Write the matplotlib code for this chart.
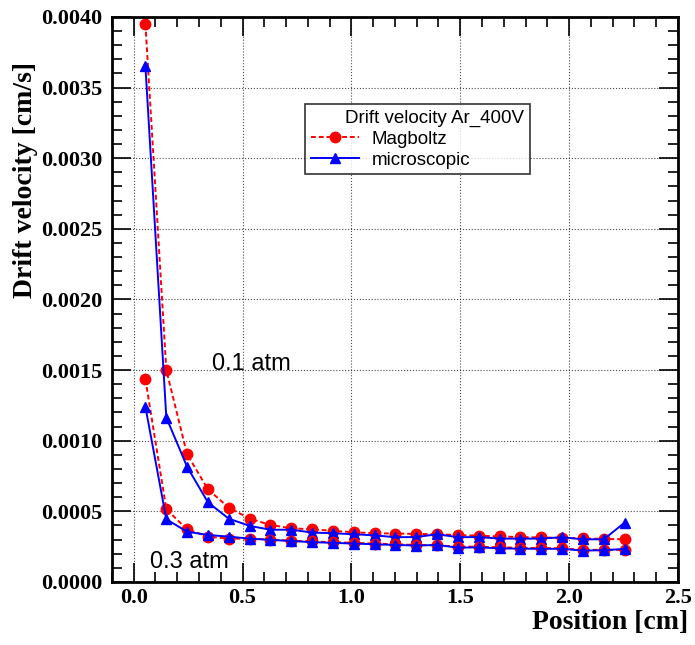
import matplotlib.pyplot as plt
from matplotlib.ticker import MultipleLocator

# positions of the sampled points [cm]
position = [0.054, 0.150, 0.245, 0.341, 0.437, 0.533, 0.628, 0.724, 0.820, 0.915,
            1.011, 1.107, 1.202, 1.298, 1.394, 1.489, 1.585, 1.681, 1.776, 1.872,
            1.968, 2.063, 2.159, 2.255]

# 0.1 atm
magboltz_01 = [0.00395, 0.00150, 0.000906, 0.000656, 0.000526, 0.000448, 0.000404, 0.000380,
               0.000373, 0.000362, 0.000352, 0.000345, 0.000343, 0.000340, 0.000338, 0.000332,
               0.000328, 0.000322, 0.000318, 0.000315, 0.000312, 0.000308, 0.000305, 0.000302]
micro_01 = [0.00365, 0.001164, 0.000817, 0.000564, 0.000448, 0.000397, 0.000370, 0.000370,
            0.000350, 0.000345, 0.000338, 0.000330, 0.000317, 0.000318, 0.000338, 0.000317,
            0.000318, 0.000307, 0.000307, 0.000307, 0.000317, 0.000302, 0.000302, 0.000420]

# 0.3 atm
magboltz_03 = [0.001435, 0.000515, 0.000373, 0.000321, 0.000307, 0.000307, 0.000300, 0.000292,
               0.000287, 0.000282, 0.000277, 0.000272, 0.000267, 0.000262, 0.000260, 0.000250,
               0.000250, 0.000245, 0.000242, 0.000240, 0.000238, 0.000227, 0.000228, 0.000227]
micro_03 = [0.00124, 0.000444, 0.000356, 0.000333, 0.000321, 0.000307, 0.000298, 0.000290,
            0.000282, 0.000277, 0.000272, 0.000267, 0.000262, 0.000258, 0.000262, 0.000243,
            0.000245, 0.000238, 0.000236, 0.000235, 0.000235, 0.000222, 0.000225, 0.000234]

fig = plt.figure(figsize=(6.95, 6.45), dpi=100)
ax = fig.add_axes([0.161, 0.0977, 0.8145, 0.876])

# red dashed with circles, blue solid with triangles
l1, = ax.plot(position, magboltz_01, color="red", linestyle=(0, (2.5, 1.5)), linewidth=1.4,
              marker="o", markersize=7.5, label="Magboltz")
l2, = ax.plot(position, micro_01, color="blue", linestyle="-", linewidth=1.4,
              marker="^", markersize=7.5, label="microscopic")
ax.plot(position, magboltz_03, color="red", linestyle=(0, (2.5, 1.5)), linewidth=1.4,
        marker="o", markersize=7.5)
ax.plot(position, micro_03, color="blue", linestyle="-", linewidth=1.4,
        marker="^", markersize=7.5)

ax.set_xlim(-0.1, 2.5)
ax.set_ylim(0, 0.004)
ax.xaxis.set_major_locator(MultipleLocator(0.5))
ax.xaxis.set_minor_locator(MultipleLocator(0.1))
ax.yaxis.set_major_locator(MultipleLocator(0.0005))
ax.yaxis.set_minor_locator(MultipleLocator(0.0001))
ax.xaxis.set_major_formatter(plt.FormatStrFormatter("%.1f"))
ax.yaxis.set_major_formatter(plt.FormatStrFormatter("%.4f"))

# ROOT-like ticks on every side
ax.tick_params(which="both", direction="in", top=True, right=True, width=1.2)
ax.tick_params(which="major", length=14)
ax.tick_params(which="minor", length=7)
ax.tick_params(axis="x", which="major", pad=4)
ax.tick_params(axis="y", which="major", pad=7)
for lab in ax.get_xticklabels() + ax.get_yticklabels():
    lab.set_fontfamily("Liberation Serif")
    lab.set_fontweight("bold")
    lab.set_fontsize(16)
for sp in ax.spines.values():
    sp.set_linewidth(2)

ax.grid(True, which="major", linestyle=":", color="black", linewidth=0.8, alpha=0.7)

ax.set_xlabel("Position [cm]", fontfamily="Liberation Serif", fontweight="bold", fontsize=20)
ax.xaxis.set_label_coords(1.018, -0.071)
ax.xaxis.label.set_horizontalalignment("right")
ax.xaxis.label.set_verticalalignment("center")
ax.set_ylabel("Drift velocity [cm/s]", fontfamily="Liberation Serif", fontweight="bold", fontsize=20)
ax.yaxis.set_label_coords(-0.152, 0.92)
ax.yaxis.label.set_verticalalignment("center")
ax.yaxis.label.set_horizontalalignment("right")

ax.text(0.362, 0.00154, "0.1 atm", fontfamily="Liberation Sans", fontsize=17, va="center")
ax.text(0.073, 0.00014, "0.3 atm", fontfamily="Liberation Sans", fontsize=17, va="center")

leg = ax.legend(handles=[l1, l2], title="Drift velocity Ar_400V", loc="upper left",
                bbox_to_anchor=(0.341, 0.724, 0.397, 0.122), mode="expand",
                frameon=True, fancybox=False,
                edgecolor="black", prop={"family": "Liberation Sans", "size": 13.5},
                title_fontproperties={"family": "Liberation Sans", "size": 13.5},
                handlelength=2.6, handletextpad=0.64, borderpad=0.3, labelspacing=0.2,
                borderaxespad=0)
leg.get_frame().set_linewidth(1.2)
leg._legend_box.align = "right"

fig.savefig("out.png", dpi=100)
